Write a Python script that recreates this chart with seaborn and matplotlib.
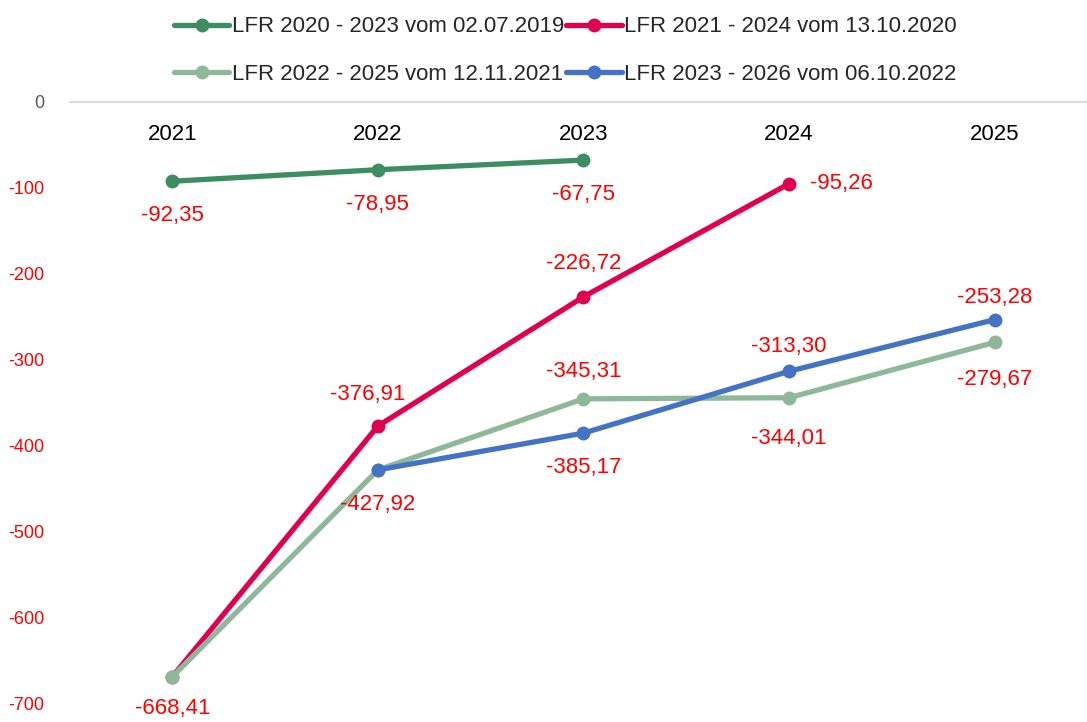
import numpy as np
import pandas as pd
import matplotlib
matplotlib.use("Agg")
import matplotlib.pyplot as plt
import seaborn as sns

# data
years = ["2021", "2022", "2023", "2024", "2025"]
series_names = [
    "LFR 2020 - 2023 vom 02.07.2019",
    "LFR 2021 - 2024 vom 13.10.2020",
    "LFR 2022 - 2025 vom 12.11.2021",
    "LFR 2023 - 2026 vom 06.10.2022",
]
lfr_2020 = [-92.35, -78.95, -67.75, np.nan, np.nan]
lfr_2021 = [-668.41, -376.91, -226.72, -95.26, np.nan]
lfr_2022 = [-668.41, -427.92, -345.31, -344.01, -279.67]
lfr_2023 = [np.nan, -427.92, -385.17, -313.30, -253.28]
colors = ["#3d8c62", "#e0004d", "#8fb89a", "#4472c4"]
y_ticks = [0, -100, -200, -300, -400, -500, -600, -700]

# which point gets a value label and where (offset in points)
label_pos = {
    (0, 0): (0, -25), (0, 1): (0, -25), (0, 2): (0, -25),
    (1, 0): (0, -23), (1, 1): (-7, 23), (1, 2): (0, 24), (1, 3): (15, 0),
    (2, 2): (0, 20), (2, 3): (0, -29), (2, 4): (0, -27),
    (3, 1): (0, -25), (3, 2): (0, -25), (3, 3): (0, 18), (3, 4): (0, 16),
}

sns.set_style("white")
plt.rcParams['font.family'] = ['Liberation Sans Narrow', 'Liberation Sans', 'DejaVu Sans']

rows = []
for name, vals in zip(series_names, [lfr_2020, lfr_2021, lfr_2022, lfr_2023]):
    for i, v in enumerate(vals):
        rows.append({"series": name, "pos": i, "value": v})
df = pd.DataFrame(rows).dropna()

fig = plt.figure(figsize=(10.87, 7.22), dpi=100)
ax = fig.add_axes([0.064, 0.025, 0.936, 0.834])

sns.lineplot(data=df, x="pos", y="value", hue="series", hue_order=series_names,
             palette=colors, marker="o", markersize=10, markeredgewidth=0,
             linewidth=3.8, ax=ax, legend=True)

all_vals = [lfr_2020, lfr_2021, lfr_2022, lfr_2023]
for (s, i), (dx, dy) in label_pos.items():
    v = all_vals[s][i]
    ax.annotate(f"{v:.2f}".replace(".", ","), (i, v), xytext=(dx, dy),
                textcoords="offset points", ha="left" if dx > 10 else "center",
                va="center", color="#ff0000", fontsize=16, annotation_clip=False)

ax.set_xlim(-0.5, 4.45)
ax.set_ylim(-700, 0)
ax.set_xticks([])
ax.set_yticks(y_ticks)
ax.set_yticklabels([str(t) for t in y_ticks], fontsize=13)
for lab, t in zip(ax.get_yticklabels(), y_ticks):
    lab.set_color("#595959" if t == 0 else "#ff0000")
ax.tick_params(axis="y", length=0, pad=18)
ax.set_xlabel("")
ax.set_ylabel("")

for i, yr in enumerate(years):
    ax.text(i, 0.945, yr, transform=ax.get_xaxis_transform(), ha="center",
            va="center", fontsize=16, color="black")

for sp in ["left", "right", "bottom"]:
    ax.spines[sp].set_visible(False)
ax.spines["top"].set_color("#d9d9d9")
ax.spines["top"].set_linewidth(1.5)

handles, labels = ax.get_legend_handles_labels()
ax.get_legend().remove()
order = [0, 2, 1, 3]
fig.legend([handles[k] for k in order], [labels[k] for k in order],
           loc="upper center", bbox_to_anchor=(0.52, 1.005), ncol=2,
           frameon=False, fontsize=16, handlelength=2.5, handletextpad=0.1,
           columnspacing=0.1, labelspacing=1.2)

fig.savefig("out.png", dpi=100)
